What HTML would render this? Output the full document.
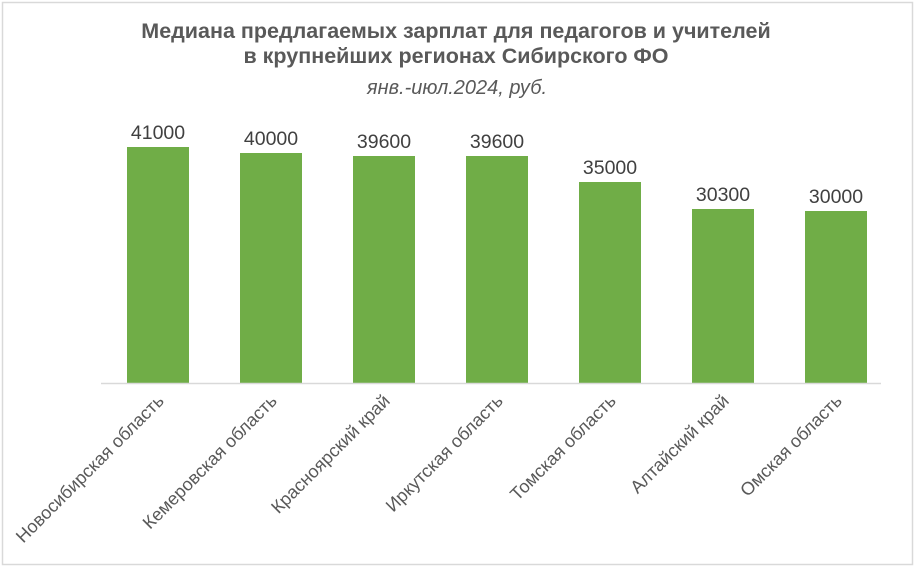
<!DOCTYPE html>
<html><head><meta charset="utf-8"><style>
html,body{margin:0;padding:0;background:#fff}
svg{display:block;font-family:"Liberation Sans",Arial,sans-serif}
</style></head><body>
<svg width="915" height="567" xmlns="http://www.w3.org/2000/svg">
<rect x="2.5" y="2.5" width="910" height="562" fill="#fff" stroke="#d9d9d9" stroke-width="1.5"/>
<g fill="#595959" font-weight="bold" font-size="21.5" text-anchor="middle">
<text x="456" y="38">Медиана предлагаемых зарплат для педагогов и учителей</text>
<text x="456" y="63">в крупнейших регионах Сибирского ФО</text>
</g>
<text x="457" y="94" fill="#595959" font-style="italic" font-size="20" text-anchor="middle">янв.-июл.2024, руб.</text>
<g fill="#70ad47">
<rect x="127" y="147" width="62" height="236"/>
<rect x="240" y="153" width="62" height="230"/>
<rect x="353" y="156" width="62" height="227"/>
<rect x="466" y="156" width="62" height="227"/>
<rect x="579" y="182" width="62" height="201"/>
<rect x="692" y="209" width="62" height="174"/>
<rect x="805" y="211" width="62" height="172"/>
</g>
<line x1="101" y1="383.5" x2="881" y2="383.5" stroke="#d9d9d9" stroke-width="1.5"/>
<g fill="#404040" font-size="19.5" text-anchor="middle">
<text x="158" y="139">41000</text>
<text x="271" y="145">40000</text>
<text x="384" y="148">39600</text>
<text x="497" y="148">39600</text>
<text x="610" y="174">35000</text>
<text x="723" y="201">30300</text>
<text x="836" y="203">30000</text>
</g>
<g fill="#595959" font-size="18" text-anchor="end">
<text transform="translate(165,402) rotate(-45)">Новосибирская область</text>
<text transform="translate(278,402) rotate(-45)">Кемеровская область</text>
<text transform="translate(391,402) rotate(-45)">Красноярский край</text>
<text transform="translate(504,402) rotate(-45)">Иркутская область</text>
<text transform="translate(617,402) rotate(-45)">Томская область</text>
<text transform="translate(730,402) rotate(-45)">Алтайский край</text>
<text transform="translate(843,402) rotate(-45)">Омская область</text>
</g>
</svg>
</body></html>
